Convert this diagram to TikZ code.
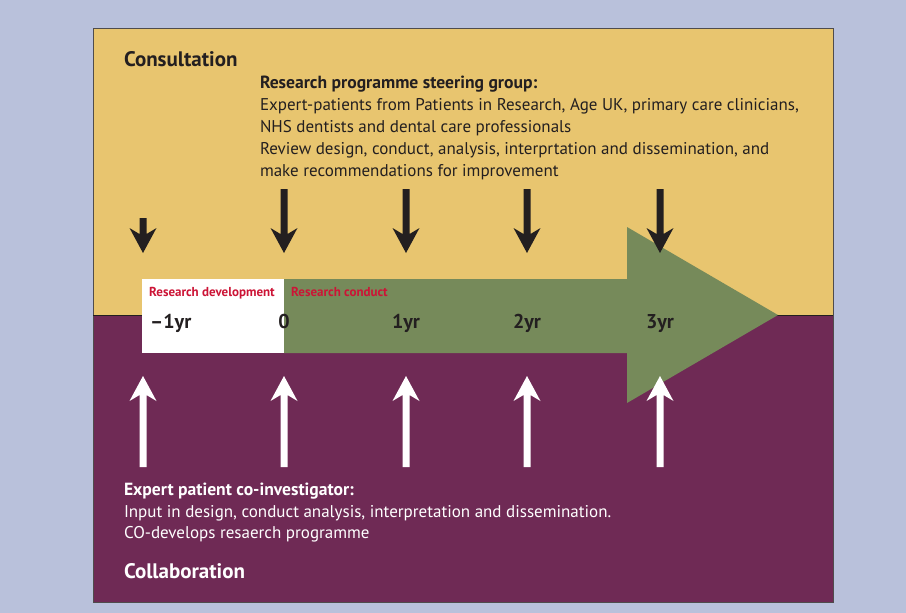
\documentclass[tikz,border=0pt]{standalone}
\usepackage{fontspec}
\setmainfont{PT Sans}
\definecolor{bgblue}{HTML}{B9C1DB}
\definecolor{yel}{HTML}{E8C56F}
\definecolor{purp}{HTML}{6F2A55}
\definecolor{grn}{HTML}{768A5A}
\definecolor{redtxt}{HTML}{CC1436}
\definecolor{ink}{HTML}{231F20}
\newcommand\mydownarr[3]{% name, x, top
  \fill[ink] (#2-3.5,#3) -- (#2+3.5,#3) -- (#2+3.5,234) -- (#2+13.5,228) -- (#2,253) -- (#2-13.5,228) -- (#2-3.5,234) -- cycle;
  \coordinate (#1) at (#2,253);}
\newcommand\myuparr[2]{% name, x
  \fill[white] (#2-3.5,467) -- (#2+3.5,467) -- (#2+3.5,395) -- (#2+13.5,401) -- (#2,376) -- (#2-13.5,401) -- (#2-3.5,395) -- cycle;
  \coordinate (#1) at (#2,376);}
\tikzset{
  txt/.style={inner sep=0pt, outer sep=0pt, anchor=base west, text=ink, font=\fontsize{17}{22}\selectfont},
  wtxt/.style={txt, text=white},
  bhead/.style={font=\fontsize{17.6}{22}\selectfont\bfseries},
  head/.style={font=\fontsize{21}{24}\selectfont\bfseries},
  redlab/.style={inner sep=0pt, anchor=base west, text=redtxt, font=\fontsize{13}{14}\selectfont\bfseries},
  yr/.style={inner sep=0pt, anchor=base, text=ink, font=\fontsize{20}{22}\selectfont\bfseries},
}
\begin{document}
\begin{tikzpicture}[x=1pt,y=-1pt]
\fill[bgblue] (0,0) rectangle (906,613);
\useasboundingbox (0,0) rectangle (906,613);
% panel
\fill[yel] (93,28) rectangle (833,315);
\fill[purp] (93,315) rectangle (833,602);
\draw[ink!80, line width=0.8] (93,28) rectangle (833,602);
\draw[ink, line width=0.8] (93,315) -- (833,315);
% timeline
\fill[white] (142,279) rectangle (284,353);
\fill[grn] (284,279) -- (627,279) -- (627,227) -- (778,315) -- (627,403) -- (627,353) -- (284,353) -- cycle;
\node[redlab] (rdev) at (149,296) {Research development};
\node[redlab] (rcon) at (291,296) {Research conduct};
\node[yr, anchor=base west] (ym1) at (150,328) {–1yr};
\node[yr] (y0) at (284,328) {0};
\node[yr] (y1) at (406,328) {1yr};
\node[yr] (y2) at (527,328) {2yr};
\node[yr] (y3) at (660,328) {3yr};
% arrows
\mydownarr{d0}{143}{218}
\mydownarr{d1}{284}{189}
\mydownarr{d2}{406}{189}
\mydownarr{d3}{527}{189}
\mydownarr{d4}{660}{189}
\myuparr{u0}{143}
\myuparr{u1}{284}
\myuparr{u2}{406}
\myuparr{u3}{527}
\myuparr{u4}{660}
% top text
\node[txt, head] (cons) at (124,66) {Consultation};
\node[txt, bhead] (sg) at (260,88) {Research programme steering group:};
\node[txt] (t1) at (260,110) {Expert-patients from Patients in Research, Age UK, primary care clinicians,};
\node[txt] (t2) at (260,132) {NHS dentists and dental care professionals};
\node[txt] (t3) at (260,154) {Review design, conduct, analysis, interprtation and dissemination, and};
\node[txt] (t4) at (260,176) {make recommendations for improvement};
% bottom text
\node[wtxt, bhead] (ep) at (124,495) {Expert patient co-investigator:};
\node[wtxt] (b1) at (124,517) {Input in design, conduct analysis, interpretation and dissemination.};
\node[wtxt] (b2) at (124,538) {CO-develops resaerch programme};
\node[wtxt, head] (coll) at (124,578) {Collaboration};
\end{tikzpicture}
\end{document}
